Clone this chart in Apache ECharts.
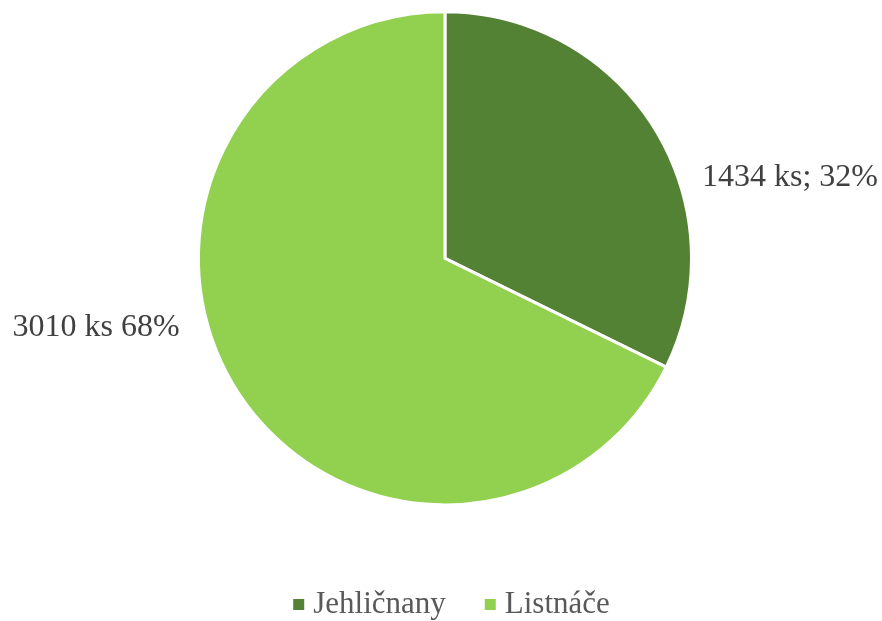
<!DOCTYPE html>
<html>
<head>
<meta charset="utf-8">
<script src="https://cdn.jsdelivr.net/npm/echarts@6/dist/echarts.min.js"></script>
<style>html,body{margin:0;padding:0;background:#fff}#c{width:882px;height:621px}</style>
</head>
<body>
<div id="c"></div>
<script>
const categories = ['Jehličnany', 'Listnáče'];
const values = [1434, 3010];
const labels = ['1434 ks; 32%', '3010 ks 68%'];
const colors = ['#548235', '#92D050'];

const chart = echarts.init(document.getElementById('c'));
const W = 882, H = 621;
const labelPos = [[790 / W, 178 / H], [96 / W, 328 / H]];
chart.setOption({
  animation: false,
  backgroundColor: '#ffffff',
  color: colors,
  legend: {
    bottom: -4,
    left: '32.45%',
    icon: 'rect',
    itemWidth: 13,
    itemHeight: 13,
    itemGap: 37,
    textStyle: { fontFamily: 'Liberation Serif', fontSize: 31, color: '#595959', padding: [0, 0, 0, 3] },
    data: categories
  },
  series: [{
    type: 'pie',
    center: ['50.45%', '41.6%'],
    radius: '79.4%',
    startAngle: 90,
    clockwise: true,
    itemStyle: { borderColor: '#ffffff', borderWidth: 3 },
    label: {
      show: true,
      formatter: p => labels[p.dataIndex],
      fontFamily: 'Liberation Serif',
      fontSize: 32,
      color: '#404040',
      overflow: 'none'
    },
    labelLine: { show: false },
    labelLayout: p => ({
      x: labelPos[p.dataIndex][0] * chart.getWidth(),
      y: labelPos[p.dataIndex][1] * chart.getHeight(),
      align: 'center',
      verticalAlign: 'middle'
    }),
    data: categories.map((c, i) => ({ name: c, value: values[i] }))
  }]
});
</script>
</body>
</html>
